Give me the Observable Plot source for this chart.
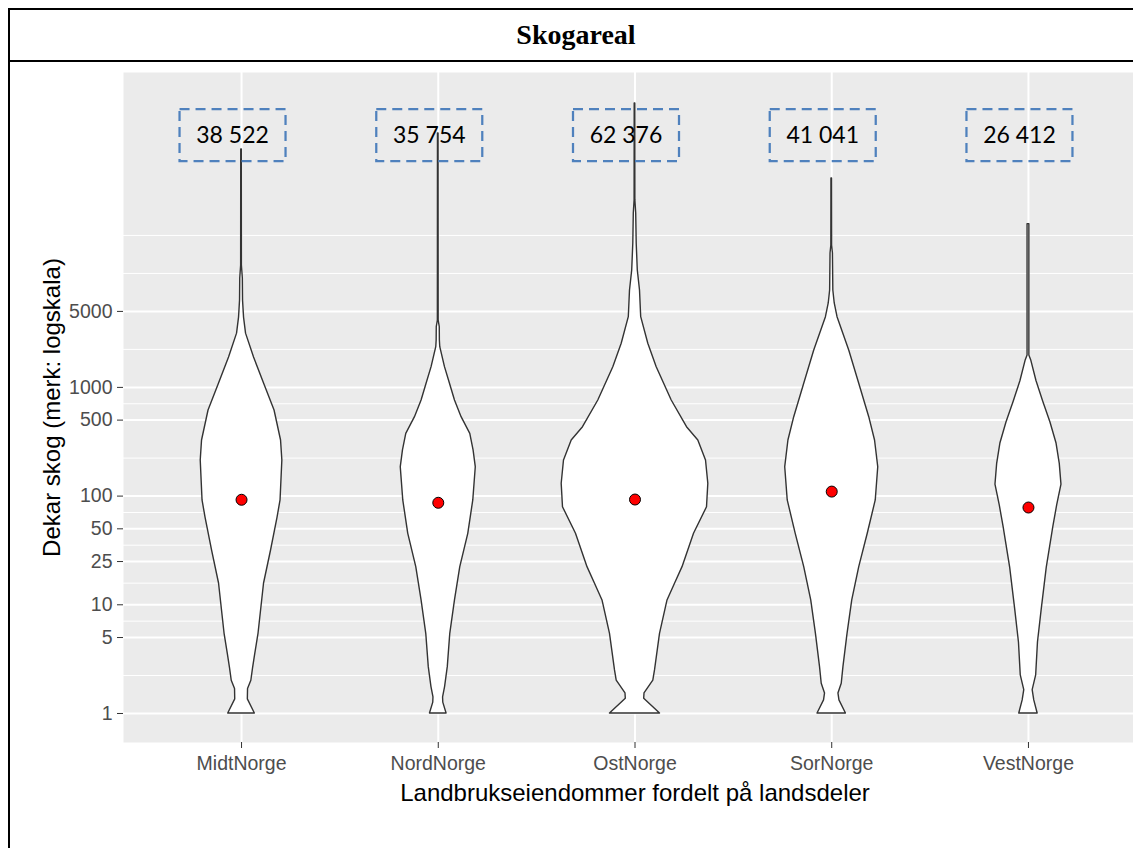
<!DOCTYPE html>
<html>
<head>
<meta charset="utf-8">
<script src="https://cdn.jsdelivr.net/npm/d3@7"></script>
<script src="https://cdn.jsdelivr.net/npm/@observablehq/plot@0.6"></script>
<style>
html, body { margin: 0; padding: 0; background: #fff; width: 1133px; height: 848px; overflow: hidden; }
#frame { position: absolute; left: 8px; top: 8px; width: 1140px; height: 900px; border-left: 2px solid #000; border-top: 2px solid #000; box-sizing: border-box; }
#title { position: absolute; left: 10px; top: 10px; width: 1132px; height: 50px; line-height: 50px; text-align: center;
  font-family: "Liberation Serif", "Times New Roman", serif; font-weight: bold; font-size: 28px; color: #000; border-bottom: 2px solid #000; }
#chart { position: absolute; left: 0; top: 62px; width: 1150px; }
#chart svg { max-width: none !important; }
</style>
</head>
<body>
<div id="frame"></div>
<div id="title">Skogareal</div>
<div id="chart"></div>
<script>
// ---- data ----
const regions = ["MidtNorge", "NordNorge", "OstNorge", "SorNorge", "VestNorge"];
const counts = [38522, 35754, 62376, 41041, 26412];
const meanValues = [92.5, 86.8, 93, 110, 78.5];
const yTickValues = [1, 5, 10, 25, 50, 100, 500, 1000, 5000];
const yTitle = "Dekar skog (merk: logskala)";
const xTitle = "Landbrukseiendommer fordelt på landsdeler";

// violin profiles: value (dekar) and relative density width
const midtValues = [1, 1.35, 1.68, 2.0, 2.6, 3.42, 5.44, 15.7, 31.6, 63.5, 91.1, 212.6, 324.8, 613, 1086, 1884, 3123, 4384, 6282, 10030, 13200, 154700];
const midtWidths = [13.3, 6.3, 6.5, 9.8, 11.5, 13.5, 17, 22.5, 29.5, 36, 39, 40.8, 39.5, 33, 22.5, 12.5, 4.5, 2.5, 1.5, 1.3, 0.4, 0.3];

const nordValues = [1, 1.26, 1.41, 1.75, 2.67, 5.41, 10.96, 22.2, 45, 91.2, 184.5, 263, 374, 532, 758, 1079, 1535, 2344, 2702, 3580, 4125, 216700];
const nordWidths = [8.3, 5, 4.8, 6.8, 9.5, 12, 16.7, 22, 30, 35, 37.5, 35.3, 32, 23.3, 16.7, 11.7, 6.7, 2, 1.6, 1.5, 0.4, 0.3];

const ostValues = [1, 1.37, 1.53, 2.01, 2.49, 5.41, 10.96, 15.6, 22.2, 45, 79, 129.8, 212.6, 324.8, 430.5, 758, 1535, 2518, 4425, 7785, 11890, 21090, 39810, 52500, 409000];
const ostWidths = [25, 9.2, 9.5, 18.3, 20, 25, 32.5, 40, 47.5, 59, 72, 73.3, 71, 63.3, 52, 36.7, 21.7, 13.3, 6.2, 5, 2.8, 1.7, 1.2, 0.4, 0.3];

const sorValues = [1, 1.32, 1.53, 1.88, 2.67, 5.41, 10.96, 22.2, 45, 91.2, 184.5, 324.8, 532, 758, 1079, 2188, 4425, 5915, 7785, 17060, 20200, 83500];
const sorWidths = [14.2, 7.7, 6.7, 10, 11.7, 15.8, 20.5, 27.5, 36, 44, 46.5, 43.3, 37.5, 32.5, 27.5, 17.5, 5.8, 3, 1.6, 1.2, 0.4, 0.3];

const vestValues = [1, 1.32, 1.64, 2.24, 4.5, 9.11, 22, 52.9, 82, 127.3, 197.8, 306.7, 475, 741, 1145, 1779, 1965, 31800];
const vestWidths = [9.2, 5.8, 4.2, 7.7, 9.5, 13.3, 18.3, 25, 28.7, 33, 31.3, 28, 22, 14.7, 8, 2.7, 0.9, 0.9];

// ---- build tables ----
const profiles = [
  [midtValues, midtWidths], [nordValues, nordWidths], [ostValues, ostWidths],
  [sorValues, sorWidths], [vestValues, vestWidths]
];
const widthScale = 1 / 196.7; // density width -> category units
const violinRows = profiles.flatMap(([vals, ws], i) =>
  vals.map((v, j) => ({region: regions[i], pos: i + 1, value: v, w: ws[j] * widthScale})));

const positions = regions.map((_, i) => i + 1);
const meanRows = regions.map((r, i) => ({pos: i + 1, value: meanValues[i]}));
const countRows = regions.map((r, i) => ({pos: i + 1, n: counts[i]}));

// ggplot-style minor breaks (midpoints in log space, extended one step beyond last)
const yDomain = [0.541, 788600];
const logs = yTickValues.map(Math.log10);
const ext = logs[logs.length - 1] + (logs[logs.length - 1] - logs[logs.length - 2]);
const allLogs = [...logs, ext];
const minorLogs = [];
for (let k = 0; k < allLogs.length - 1; k++) minorLogs.push((allLogs[k] + allLogs[k + 1]) / 2);
minorLogs.push(ext);
const minorTicks = minorLogs.map(l => Math.pow(10, l)).filter(v => v > yDomain[0] && v < yDomain[1]);

const fmtCount = n => d3.format(",")(n).replace(/,/g, " ");

const boxSymbol = { draw(ctx) { ctx.moveTo(-53, -26); ctx.lineTo(53, -26); ctx.lineTo(53, 26); ctx.lineTo(-53, 26); ctx.closePath(); } };

const chart = Plot.plot({
  width: 1150,
  height: 786,
  marginLeft: 123,
  marginRight: 4,
  marginTop: 10,
  marginBottom: 106,
  style: { background: "transparent", fontFamily: "'Liberation Sans', Arial, sans-serif", overflow: "visible", maxWidth: "none" },
  x: { type: "linear", domain: [0.4, 5.6], axis: null },
  y: { type: "log", domain: yDomain, axis: null },
  marks: [
    Plot.frame({ fill: "#EBEBEB", stroke: null }),
    Plot.ruleY(minorTicks, { stroke: "white", strokeWidth: 1 }),
    Plot.ruleY(yTickValues, { stroke: "white", strokeWidth: 2 }),
    Plot.ruleX(positions, { stroke: "white", strokeWidth: 2 }),
    Plot.areaX(violinRows, {
      y: "value", x1: d => d.pos - d.w, x2: d => d.pos + d.w, z: "region",
      fill: "white", stroke: "#333333", strokeWidth: 1.4, curve: "linear"
    }),
    Plot.dot(meanRows, { x: "pos", y: "value", r: 5.5, fill: "red", stroke: "black", strokeWidth: 1 }),
    // y axis: tick marks and labels
    Plot.axisY(yTickValues, { tickSize: 6, stroke: "#333333", fill: "none", label: null }),
    Plot.text(yTickValues, { y: d => d, frameAnchor: "left", dx: -11, textAnchor: "end", lineAnchor: "middle", text: d => String(d), fontSize: 19.5, fill: "#4D4D4D" }),
    Plot.axisX(positions, { tickFormat: d => regions[d - 1], tickSize: 6, tickPadding: 8, fontSize: 19.5, stroke: "#333333", color: "#4D4D4D", label: null }),
    Plot.text([yTitle], { frameAnchor: "left", dx: -71, rotate: -90, textAnchor: "middle", lineAnchor: "middle", fontSize: 24, fill: "black" }),
    Plot.text([xTitle], { frameAnchor: "bottom", dy: 51, textAnchor: "middle", lineAnchor: "middle", fontSize: 24, fill: "black" }),
    Plot.dot(countRows, { x: "pos", frameAnchor: "top", dy: 62.5, dx: -9, symbol: boxSymbol, r: 10, fill: "none", stroke: "#4F81BD", strokeWidth: 2.25, strokeDasharray: "10,6" }),
    Plot.text(countRows, { x: "pos", frameAnchor: "top", dy: 63, dx: -9, text: d => fmtCount(d.n), fontSize: 23, fontFamily: "Lato, 'Open Sans', sans-serif", fill: "black", lineAnchor: "middle" })
  ]
});
document.getElementById("chart").appendChild(chart);
</script>
</body>
</html>
